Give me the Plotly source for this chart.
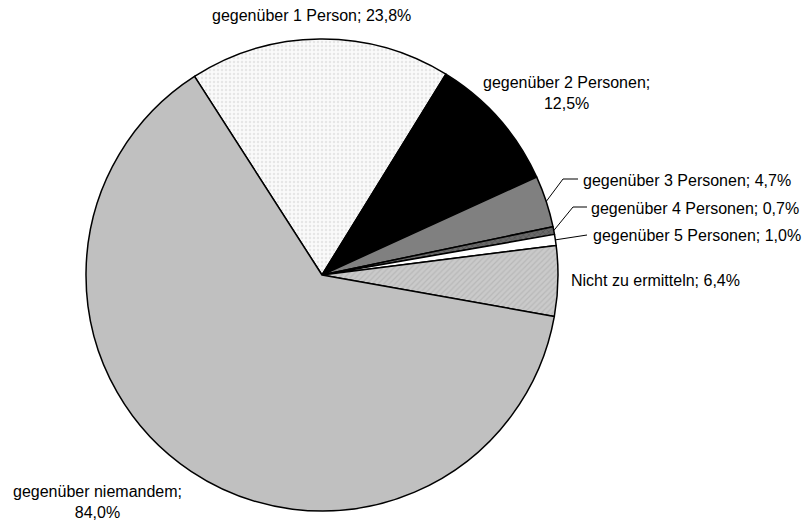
import math
import plotly.graph_objects as go

# ---- data ----
labels = [
    "gegenüber 1 Person",
    "gegenüber 2 Personen",
    "gegenüber 3 Personen",
    "gegenüber 4 Personen",
    "gegenüber 5 Personen",
    "Nicht zu ermitteln",
    "gegenüber niemandem",
]
values = [23.8, 12.5, 4.7, 0.7, 1.0, 6.4, 84.0]
value_texts = ["23,8%", "12,5%", "4,7%", "0,7%", "1,0%", "6,4%", "84,0%"]

# ---- style ----
colors = ["#fafafa", "#000000", "#808080", "#6a6a6a", "#ffffff", "#cacaca", "#c0c0c0"]
pat_shapes = [".", "", "", "x", "", "/", ""]
pat_fg = ["#e6e6e6", "#000000", "#808080", "#505050", "#ffffff", "#b8b8b8", "#c0c0c0"]

W, H = 809, 520
CX, CY, R = 322, 275, 236
ROT = -32.7  # start of first slice, degrees from 12 o'clock (negative = counter-clockwise)

fig = go.Figure(go.Pie(
    labels=labels,
    values=values,
    sort=False,
    direction="clockwise",
    rotation=ROT,
    textinfo="none",
    hoverinfo="label+value",
    marker=dict(
        colors=colors,
        line=dict(color="#000000", width=1.5),
        pattern=dict(shape=pat_shapes, fgcolor=pat_fg, bgcolor=colors,
                     size=4, solidity=0.3),
    ),
    domain=dict(x=[(CX - R) / W, (CX + R) / W], y=[(H - CY - R) / H, (H - CY + R) / H]),
    showlegend=False,
))

FONT = dict(family="Liberation Sans, Arial, sans-serif", size=16, color="#000000")

def px(x):
    return x / W

def py(y):
    return 1 - y / H

# label placement (pixel positions of label anchors)
label_pos = [
    (311, 15, "center", False),
    (566, 93, "center", True),
    (581, 180, "left", False),
    (589, 208, "left", False),
    (591, 236, "left", False),
    (569, 280, "left", False),
    (97, 502, "center", True),
]

annotations = []
for i, (x, y, anchor, wrap) in enumerate(label_pos):
    sep = "<br>" if wrap else " "
    annotations.append(dict(
        x=px(x), y=py(y), xref="paper", yref="paper",
        text=f"{labels[i]};{sep}{value_texts[i]}",
        showarrow=False, xanchor=anchor, yanchor="middle",
        align="center", font=FONT,
    ))

# leader lines for small slices: from slice edge midpoint to label
total = sum(values)
start = 90 - ROT
mids = []
acc = 0.0
for v in values:
    a = start - (acc + v / 2) / total * 360
    mids.append(a)
    acc += v

elbows = {2: (563, 179, 578), 3: (573, 207, 587), 4: None}
shapes = []
for i in (2, 3, 4):
    a = math.radians(mids[i])
    ex, ey = CX + R * math.cos(a), CY - R * math.sin(a)
    if elbows[i] is not None:
        bx, by, tx = elbows[i]
        path = f"M {px(ex)},{py(ey)} L {px(bx)},{py(by)} L {px(tx)},{py(by)}"
    else:
        path = f"M {px(ex)},{py(ey)} L {px(587)},{py(235)}"
    shapes.append(dict(type="path", xref="paper", yref="paper", path=path,
                       line=dict(color="#000000", width=1)))

fig.update_layout(
    width=W, height=H,
    margin=dict(l=0, r=0, t=0, b=0),
    paper_bgcolor="#ffffff",
    plot_bgcolor="#ffffff",
    annotations=annotations,
    shapes=shapes,
)

fig.write_html(
    "out.html",
    config={"displayModeBar": False},
    post_script="document.body.style.margin='0';document.body.style.padding='0';",
)
